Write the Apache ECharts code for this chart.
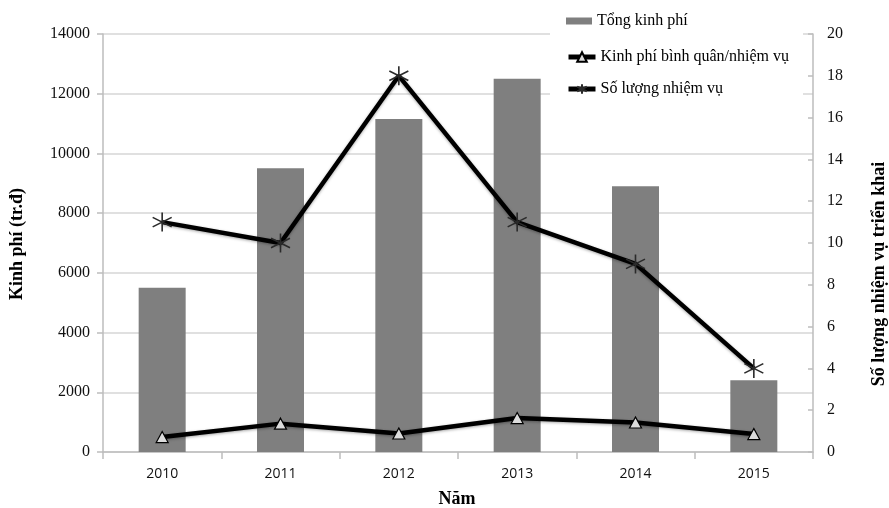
<!DOCTYPE html>
<html>
<head>
<meta charset="utf-8">
<script src="https://cdn.jsdelivr.net/npm/echarts@6/dist/echarts.min.js"></script>
<style>
  html, body { margin: 0; padding: 0; background: #fff; }
  #chart { width: 889px; height: 508px; }
</style>
</head>
<body>
<div id="chart"></div>
<script>
// Funding and task counts per year
const years = ['2010', '2011', '2012', '2013', '2014', '2015'];
const tongKinhPhi = [5500, 9500, 11150, 12500, 8900, 2400];          // total funding (tr.đ)
const kinhPhiBinhQuan = [500, 950, 619, 1136, 989, 600];             // average funding per task (tr.đ)
const soLuongNhiemVu = [11, 10, 18, 11, 9, 4];                       // number of tasks
const leftTicks = { min: 0, max: 14000, interval: 2000 };
const rightTicks = { min: 0, max: 20, interval: 2 };

const serif = '"Liberation Serif", "Times New Roman", serif';
const asterisk = 'path://M10 0 L10 20 M1.34 5 L18.66 15 M1.34 15 L18.66 5';

const chart = echarts.init(document.getElementById('chart'), null, { renderer: 'canvas' });

const legendText = { fontFamily: serif, fontSize: 16, color: '#000' };

chart.setOption({
  animation: false,
  backgroundColor: '#fff',
  grid: { left: 103, right: 76, top: 34, bottom: 56, containLabel: false },
  legend: [
    {
      data: ['Tổng kinh phí'], left: 566, top: 13, itemWidth: 26, itemHeight: 7,
      itemGap: 4, padding: 0, icon: 'rect', textStyle: legendText, z: 10
    },
    {
      data: ['Kinh phí bình quân/nhiệm vụ'], left: 566, top: 49, itemWidth: 27, itemHeight: 12,
      itemGap: 4, padding: 0, textStyle: legendText, z: 10,
      lineStyle: { width: 5, color: '#000' }
    },
    {
      data: ['Số lượng nhiệm vụ'], left: 566, top: 81, itemWidth: 27, itemHeight: 12,
      itemGap: 4, padding: 0, textStyle: legendText, z: 10,
      lineStyle: { width: 5, color: '#000' }
    }
  ],
  graphic: [
    // white panel behind the legend
    { type: 'rect', left: 550, top: 0, z: 3, shape: { width: 253, height: 106 }, style: { fill: '#fff' } },
    {
      type: 'text', x: 17, y: 244, rotation: Math.PI / 2, z: 5,
      style: { text: 'Kinh phí (tr.đ)', font: 'bold 18px ' + serif, fill: '#000', align: 'center', verticalAlign: 'middle' }
    },
    {
      type: 'text', x: 879, y: 274, rotation: Math.PI / 2, z: 5,
      style: { text: 'Số lượng nhiệm vụ triển khai', font: 'bold 18px ' + serif, fill: '#000', align: 'center', verticalAlign: 'middle' }
    },
    {
      type: 'text', x: 457, y: 499, z: 5,
      style: { text: 'Năm', font: 'bold 18px ' + serif, fill: '#000', align: 'center', verticalAlign: 'middle' }
    }
  ],
  xAxis: {
    type: 'category',
    data: years,
    boundaryGap: true,
    axisLine: { lineStyle: { color: '#bdbdbd', width: 1.5 } },
    axisTick: { show: true, alignWithLabel: false, length: 7, lineStyle: { color: '#bdbdbd', width: 1.5 } },
    axisLabel: { fontFamily: '"Open Sans", sans-serif', fontSize: 14, color: '#111', margin: 15 }
  },
  yAxis: [
    {
      type: 'value',
      min: leftTicks.min, max: leftTicks.max, interval: leftTicks.interval,
      axisLine: { show: true, lineStyle: { color: '#bdbdbd', width: 1.5 } },
      axisTick: { show: true, length: 6, lineStyle: { color: '#bdbdbd', width: 1.5 } },
      axisLabel: { fontFamily: serif, fontSize: 16, color: '#111', margin: 13, formatter: v => String(v) },
      splitLine: { show: true, lineStyle: { color: '#d6d6d6', width: 1.5 } }
    },
    {
      type: 'value',
      min: rightTicks.min, max: rightTicks.max, interval: rightTicks.interval,
      position: 'right',
      axisLine: { show: true, lineStyle: { color: '#bdbdbd', width: 1.5 } },
      axisTick: { show: true, inside: true, length: 5, lineStyle: { color: '#bdbdbd', width: 1.5 } },
      axisLabel: { fontFamily: serif, fontSize: 16, color: '#111', margin: 14, formatter: v => String(v) },
      splitLine: { show: false }
    }
  ],
  series: [
    {
      name: 'Tổng kinh phí',
      type: 'bar',
      yAxisIndex: 0,
      data: tongKinhPhi,
      barWidth: 47,
      itemStyle: { color: '#7f7f7f' },
      z: 2
    },
    {
      name: 'Kinh phí bình quân/nhiệm vụ',
      type: 'line',
      yAxisIndex: 0,
      data: kinhPhiBinhQuan,
      symbol: 'triangle',
      symbolSize: [12, 11],
      showAllSymbol: true,
      lineStyle: { color: '#000', width: 4.5, shadowColor: 'rgba(0,0,0,0.35)', shadowBlur: 3, shadowOffsetY: 1 },
      itemStyle: { color: '#dcdcdc', borderColor: '#000', borderWidth: 1.2 },
      z: 6
    },
    {
      name: 'Số lượng nhiệm vụ',
      type: 'line',
      yAxisIndex: 1,
      data: soLuongNhiemVu,
      symbol: asterisk,
      symbolSize: 19,
      showAllSymbol: true,
      lineStyle: { color: '#000', width: 4.5, shadowColor: 'rgba(0,0,0,0.35)', shadowBlur: 3, shadowOffsetY: 1 },
      itemStyle: { color: '#000', borderColor: '#2a2a2a', borderWidth: 1.6 },
      z: 6
    }
  ]
});
</script>
</body>
</html>
